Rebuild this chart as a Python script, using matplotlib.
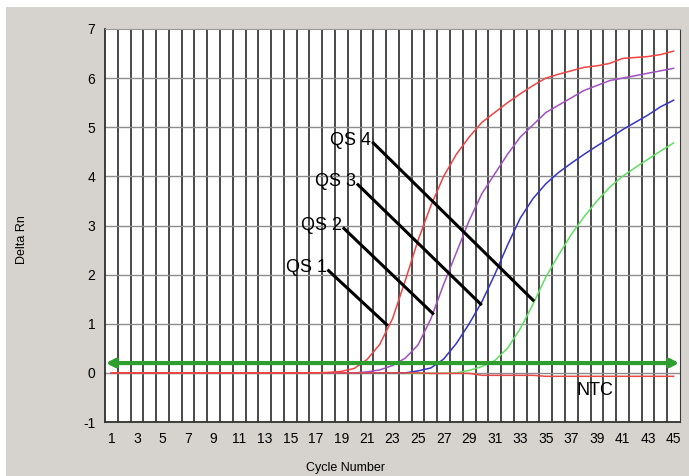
import numpy as np
import matplotlib
matplotlib.use("Agg")
import matplotlib.pyplot as plt
from matplotlib.patches import Rectangle

# ==========================
# DATA
# ==========================
cycles = list(range(1, 46))

# amplification curves, one value per cycle 1..45
red = [0.0] * 17 + [0.01, 0.03, 0.09, 0.27, 0.58, 1.1, 1.88, 2.7, 3.4, 4.0, 4.45, 4.8,
                    5.1, 5.3, 5.5, 5.68, 5.85, 6.0, 6.08, 6.15, 6.22, 6.25, 6.3, 6.4,
                    6.42, 6.44, 6.48, 6.55]
purple = [0.0] * 20 + [0.02, 0.06, 0.15, 0.3, 0.57, 1.1, 1.8, 2.45, 3.1, 3.65, 4.05,
                       4.45, 4.8, 5.05, 5.3, 5.45, 5.6, 5.75, 5.85, 5.95, 6.0, 6.05,
                       6.1, 6.15, 6.2]
blue = [0.0] * 24 + [0.04, 0.1, 0.28, 0.6, 1.0, 1.45, 2.0, 2.6, 3.15, 3.55, 3.85,
                     4.08, 4.27, 4.45, 4.62, 4.78, 4.95, 5.1, 5.25, 5.42, 5.55]
green = [-0.01] * 27 + [0.0, 0.05, 0.13, 0.25, 0.5, 0.9, 1.4, 1.95, 2.4, 2.82, 3.18,
                        3.5, 3.78, 4.0, 4.18, 4.35, 4.52, 4.68]
ntc = [0.0] * 25 + [-0.01] * 4 + [-0.05] * 5 + [-0.07] * 11

threshold = 0.2

# leader lines: label, (x start, y start), (x end, y end)
labels = ["QS 1", "QS 2", "QS 3", "QS 4"]
label_start = [(18.0, 2.08), (19.2, 2.94), (20.3, 3.83), (21.5, 4.68)]
label_end = [(22.55, 0.98), (26.15, 1.21), (29.9, 1.40), (34.0, 1.48)]

# ==========================
# FIGURE
# ==========================
plt.rcParams['font.family'] = ['Liberation Sans', 'DejaVu Sans']
plt.rcParams['axes.unicode_minus'] = False
bg = "#d6d3ce"
fig = plt.figure(figsize=(6.89, 4.76), dpi=100, facecolor="white")
fig.patches.append(Rectangle((6 / 689, 0), 1, 1 - 7 / 476, transform=fig.transFigure,
                             facecolor=bg, edgecolor="none", zorder=-1))
ax = fig.add_axes([105 / 689, 1 - 422 / 476, 575 / 689, 393 / 476])
ax.set_facecolor("white")

ax.set_xlim(0.5, 45.5)
ax.set_ylim(-1, 7)

# grid: dark verticals between cycles, grey horizontals at integers
for xv in np.arange(1.5, 45.5, 1.0):
    ax.axvline(xv, color="#3a3a3a", lw=1.3, zorder=1)
for yv in range(0, 7):
    ax.axhline(yv, color="#8c8c8c", lw=1.0, zorder=1)

ax.plot(cycles, green, color="#5fe05f", lw=1.1, zorder=3)
ax.plot(cycles, blue, color="#3535c8", lw=1.1, zorder=3)
ax.plot(cycles, purple, color="#a050c0", lw=1.1, zorder=3)
ax.plot(cycles, ntc, color="#e84848", lw=1.1, zorder=3)
ax.plot(cycles, red, color="#f04444", lw=1.1, zorder=3)

# threshold line with arrow heads
ax.annotate("", xy=(0.55, threshold), xytext=(45.45, threshold),
            arrowprops=dict(arrowstyle="<->", color="#2e9e2e", lw=3,
                            shrinkA=0, shrinkB=0, mutation_scale=12), zorder=4)

for name, (x0, y0), (x1, y1) in zip(labels, label_start, label_end):
    ax.plot([x0, x1], [y0, y1], color="black", lw=2.2, zorder=5)
    ax.text(x0 - 0.15, y0 + 0.06, name, fontsize=13, ha="right", va="center", zorder=6)

ax.text(37.4, -0.35, "NTC", fontsize=13, ha="left", va="center", zorder=6)

ax.set_xticks(range(1, 46, 2))
ax.set_yticks(range(-1, 8))
ax.tick_params(length=0, labelsize=10, pad=7)
for s in ["left", "bottom"]:
    ax.spines[s].set_color("#303030")
    ax.spines[s].set_linewidth(1.3)
ax.spines["top"].set_color("#9a9a9a")
ax.spines["right"].set_color("#3a3a3a")

fig.text(22 / 689, 1 - 240 / 476, "Delta Rn", rotation=90, fontsize=9,
         ha="center", va="center")
fig.text(345 / 689, 1 - 468 / 476, "Cycle Number", fontsize=9,
         ha="center", va="center")

fig.savefig("out.png", dpi=100, facecolor=fig.get_facecolor())
